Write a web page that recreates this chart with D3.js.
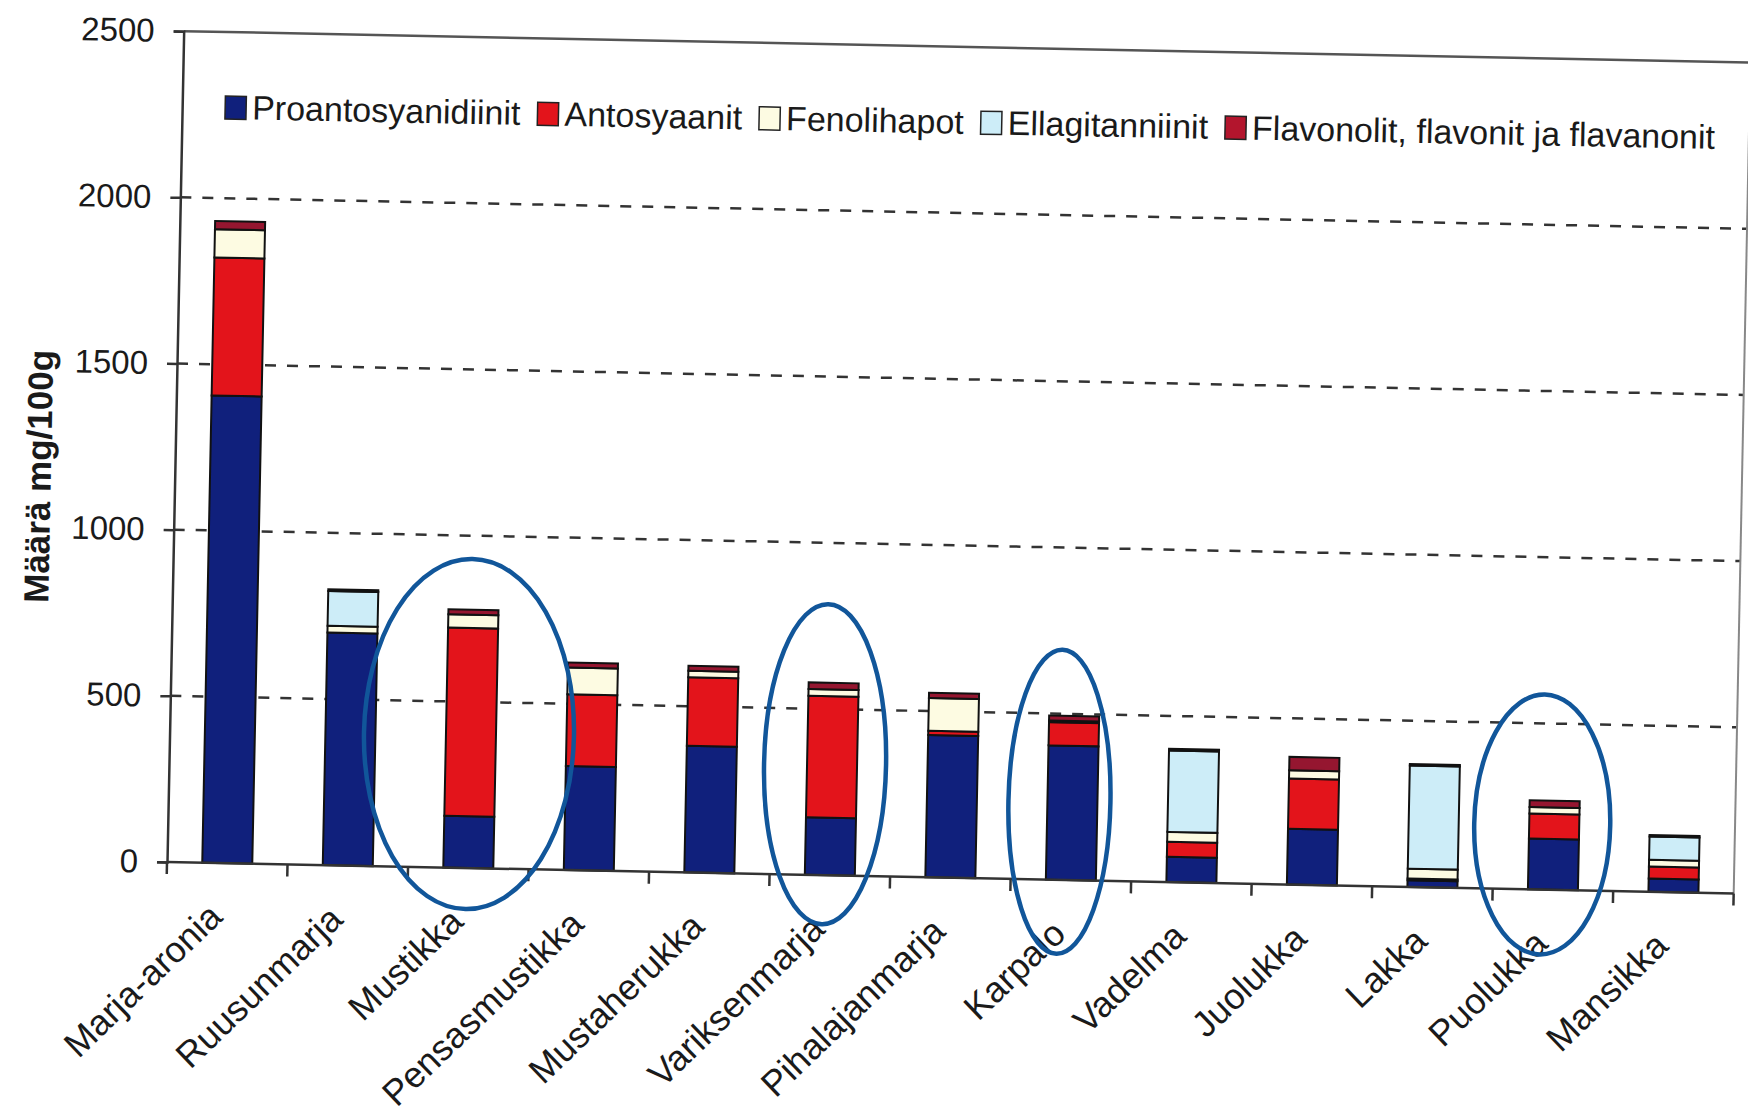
<!DOCTYPE html>
<html>
<head>
  <meta charset="utf-8">
  <script src="https://d3js.org/d3.v7.min.js"></script>
  <style>
    body { margin: 0; background: #fff; }
    text { font-family: "Liberation Sans", Arial, sans-serif; fill: #1a1a1a; }
    .seg { stroke: #111; stroke-width: 2; }
  </style>
</head>
<body>
<script>
// values (mg/100g)
var categories = ["Marja-aronia", "Ruusunmarja", "Mustikka", "Pensasmustikka", "Mustaherukka",
  "Variksenmarja", "Pihalajanmarja", "Karpalo", "Vadelma", "Juolukka", "Lakka", "Puolukka", "Mansikka"];
var proanto = [1406, 700, 156, 313, 381, 173, 428, 404, 76, 168, 20, 153, 40];
var antos   = [415, 0, 566, 216, 206, 366, 13, 70, 45, 151, 5, 75, 36];
var fenoli  = [85, 20, 40, 80, 20, 20, 98, 5, 30, 25, 30, 20, 20];
var ellag   = [0, 105, 0, 0, 0, 0, 0, 0, 245, 0, 310, 0, 70];
var flavon  = [25, 5, 15, 15, 15, 20, 16, 15, 5, 40, 5, 20, 5];
var seriesNames = ["Proantosyanidiinit", "Antosyaanit", "Fenolihapot", "Ellagitanniinit",
  "Flavonolit, flavonit ja flavanonit"];
var yTicks = [0, 500, 1000, 1500, 2000, 2500];
var circled = ["Mustikka", "Variksenmarja", "Karpalo", "Puolukka"];

var colors = ["#10207c", "#e3141b", "#fdfbe2", "#cdedf8", "#951630"];

var width = 1748, height = 1115;
var plotL = 167, plotR = 1734, plotB = 862, plotT = 31;

var svg = d3.select("body").append("svg")
    .attr("width", width)
    .attr("height", height);

// the scan is slightly tilted
var g = svg.append("g").attr("transform", "rotate(1.15," + plotL + "," + plotB + ")");

var x = d3.scaleBand()
    .domain(categories)
    .range([plotL, plotR])
    .paddingInner(0.585)
    .paddingOuter(0.2925);

var y = d3.scaleLinear()
    .domain([0, 2500])
    .range([plotB, plotT]);

var rows = categories.map(function(c, i) {
  var r = { cat: c };
  r[seriesNames[0]] = proanto[i];
  r[seriesNames[1]] = antos[i];
  r[seriesNames[2]] = fenoli[i];
  r[seriesNames[3]] = ellag[i];
  r[seriesNames[4]] = flavon[i];
  return r;
});

var series = d3.stack().keys(seriesNames)(rows);

// dashed gridlines
g.selectAll("line.grid")
    .data(yTicks.filter(function(t) { return t > 0 && t < 2500; }))
    .enter().append("line")
    .attr("class", "grid")
    .attr("x1", plotL).attr("x2", plotR)
    .attr("y1", function(d) { return y(d); })
    .attr("y2", function(d) { return y(d); })
    .attr("stroke", "#333")
    .attr("stroke-width", 2.5)
    .attr("stroke-dasharray", "11,11");

// frame
g.append("line").attr("x1", plotL).attr("x2", plotR).attr("y1", y(2500)).attr("y2", y(2500))
    .attr("stroke", "#555").attr("stroke-width", 2.5);
g.append("line").attr("x1", plotR).attr("x2", plotR).attr("y1", y(2500)).attr("y2", y(0))
    .attr("stroke", "#888").attr("stroke-width", 2);

// bars
g.selectAll("g.layer")
    .data(series)
    .enter().append("g")
    .attr("class", "layer")
    .attr("fill", function(d, i) { return colors[i]; })
    .selectAll("rect")
    .data(function(d) { return d.filter(function(p) { return p[1] - p[0] > 0; }); })
    .enter().append("rect")
    .attr("class", "seg")
    .attr("x", function(d) { return x(d.data.cat); })
    .attr("width", x.bandwidth())
    .attr("y", function(d) { return y(d[1]); })
    .attr("height", function(d) { return y(d[0]) - y(d[1]); });

// y axis
var yAxis = g.append("g")
    .attr("transform", "translate(" + plotL + ",0)")
    .call(d3.axisLeft(y).tickValues(yTicks).tickSize(10).tickPadding(19).tickFormat(d3.format("d")));
yAxis.select(".domain").attr("stroke", "#333").attr("stroke-width", 2.5);
yAxis.selectAll(".tick line").attr("stroke", "#333").attr("stroke-width", 2.5);
yAxis.selectAll(".tick text")
    .style("font-size", "33px")
    .style("font-family", "'Liberation Sans', Arial, sans-serif")
    .attr("fill", "#1a1a1a");

// x axis line and boundary ticks
g.append("line").attr("x1", plotL).attr("x2", plotR).attr("y1", plotB).attr("y2", plotB)
    .attr("stroke", "#333").attr("stroke-width", 2.5);
g.selectAll("line.xtick")
    .data(d3.range(categories.length + 1))
    .enter().append("line")
    .attr("class", "xtick")
    .attr("x1", function(i) { return plotL + i * x.step(); })
    .attr("x2", function(i) { return plotL + i * x.step(); })
    .attr("y1", plotB).attr("y2", plotB + 12)
    .attr("stroke", "#333").attr("stroke-width", 2.5);

// category labels
g.selectAll("text.cat")
    .data(categories)
    .enter().append("text")
    .attr("class", "cat")
    .attr("transform", function(d) {
      return "translate(" + (x(d) + x.bandwidth() / 2 - 2) + "," + (plotB + 56) + ") rotate(-45)";
    })
    .attr("text-anchor", "end")
    .style("font-size", "36px")
    .text(function(d) { return d; });

// y title
g.append("text")
    .attr("transform", "translate(43,479) rotate(-90)")
    .attr("text-anchor", "middle")
    .style("font-size", "35px")
    .style("font-weight", "bold")
    .text("Määrä mg/100g");

// legend
var lx = 210;
seriesNames.forEach(function(name, i) {
  g.append("rect")
      .attr("x", lx).attr("y", 95)
      .attr("width", 21).attr("height", 23)
      .attr("fill", i === 4 ? "#b3152d" : colors[i])
      .attr("stroke", "#222").attr("stroke-width", 1.5);
  var t = g.append("text")
      .attr("x", lx + 27).attr("y", 118)
      .style("font-size", "34px")
      .text(name);
  lx += 27 + t.node().getComputedTextLength() + 17;
});

// hand-drawn highlight ellipses: [dx from bar centre, centre value, rx, ry]
var marks = { "Mustikka": [-2, 403, 105, 175], "Variksenmarja": [-7, 334, 61, 160],
              "Karpalo": [-13, 235, 51, 152], "Puolukka": [-12, 196, 68, 130] };
g.selectAll("ellipse")
    .data(circled)
    .enter().append("ellipse")
    .attr("cx", function(d) { return x(d) + x.bandwidth() / 2 + marks[d][0]; })
    .attr("cy", function(d) { return y(marks[d][1]); })
    .attr("rx", function(d) { return marks[d][2]; })
    .attr("ry", function(d) { return marks[d][3]; })
    .attr("fill", "none")
    .attr("stroke", "#11569a")
    .attr("stroke-width", 4.5);
</script>
</body>
</html>
